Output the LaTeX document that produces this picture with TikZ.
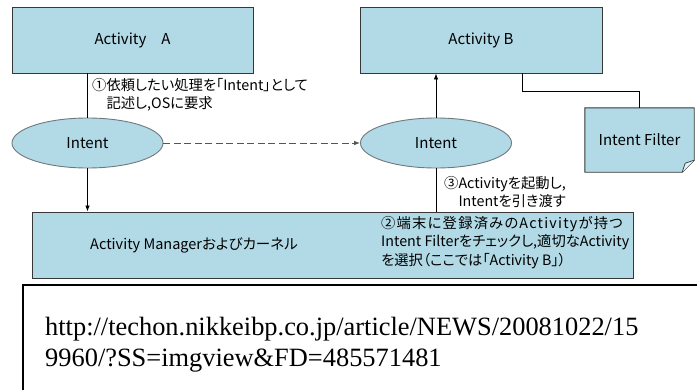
\documentclass[tikz,border=0pt]{standalone}
\usepackage{fontspec}
\setmainfont{Noto Sans CJK JP}[RawFeature=+palt]
\newfontfamily\urlfont{Liberation Serif}
\usetikzlibrary{arrows.meta,shapes.geometric,backgrounds}
\definecolor{boxblue}{RGB}{178,218,230}
\definecolor{edgegray}{RGB}{55,55,55}
\definecolor{ringgray}{RGB}{110,120,125}

\begin{document}
\begin{tikzpicture}[x=1pt,y=-1pt]
  \tikzset{box/.style={draw=edgegray,fill=boxblue,line width=0.9pt,inner sep=0pt,font=\fontsize{15}{18}\selectfont}}
  \tikzset{intentnode/.style={ellipse,draw=ringgray,fill=boxblue,line width=0.9pt,minimum width=151pt,minimum height=50pt,inner sep=0pt,font=\fontsize{15}{18}\selectfont}}
  \tikzset{note/.style={align=left,inner sep=0pt,font=\fontsize{14.3}{18.5}\selectfont}}
  \tikzset{arr/.style={-{Latex[length=6pt,width=4.5pt]},line width=0.8pt}}
  \useasboundingbox (0,0) rectangle (697,389);
  % boxes and intents
  \node[box,minimum width=241pt,minimum height=66pt] (actA) at (132.5,40) {Activity\quad A};
  \node[box,minimum width=242pt,minimum height=66pt] (actB) at (481,40) {Activity B};
  \node[intentnode] (intA) at (87.5,143) {Intent};
  \node[intentnode] (intB) at (436,143) {Intent};
  \node[box,minimum width=601pt,minimum height=66pt] (mgr) at (332.5,245) {};
  \node[anchor=west,inner sep=0pt,font=\fontsize{14.5}{18}\selectfont] (mgrtext) at (90,245) {Activity Managerおよびカーネル};
  \node[inner sep=0pt,minimum width=109pt,minimum height=64pt,font=\fontsize{15}{18}\selectfont] (filter) at (639.5,140) {Intent Filter};
  \begin{scope}[on background layer]
    \filldraw[draw=edgegray,fill=boxblue,line width=0.9pt] (filter.north west) -- (filter.north east)
      -- ([yshift=12pt]filter.south east) -- ([xshift=-12pt]filter.south east) -- (filter.south west) -- cycle;
  \end{scope}
  \filldraw[draw=edgegray,fill=boxblue!35,line width=0.7pt] ([yshift=12pt]filter.south east)
    -- ([xshift=-9pt,yshift=9pt]filter.south east) -- ([xshift=-12pt]filter.south east);
  % connectors
  \coordinate (bend) at (639.5,91);
  \draw[line width=0.8pt] ([xshift=41pt]actB.south) |- (bend) -- (filter.north);
  \draw[line width=0.8pt] (intA.north |- actA.south) -- (intA.north);
  \draw[arr] (intA.south) -- (intA.south |- mgr.north);
  \draw[arr,dash pattern=on 7pt off 3.5pt,draw=edgegray!85] (intA.east) -- (intB.west);
  \draw[arr] (intB.north) -- (intB.north |- actB.south);
  \draw[line width=0.8pt] (intB.south) -- (intB.south |- mgr.north);
  % notes
  \node[note,anchor=north west] (step1) at (92,78) {①依頼したい処理を「Intent」として\\\phantom{①}記述し,OSに要求};
  \node[note,anchor=north west] (step3) at (444,176) {③Activityを起動し,\\\phantom{③}Intentを引き渡す};
  \node[note,anchor=north west] (step2) at (381,216) {{\addfontfeature{LetterSpace=8.5}②端末に登録済みのActivityが持つ}\\Intent Filterをチェックし,適切なActivity\\を選択（ここでは「Activity B」）};
  % source
  \begin{scope}
    \clip (0,0) rectangle (697,389);
    \draw[line width=2pt] (23,285) rectangle (720,410);
  \end{scope}
  \node[anchor=base west,inner sep=0pt,font=\urlfont\fontsize{26.4}{30}\selectfont] (url1) at (45,335) {http://techon.nikkeibp.co.jp/article/NEWS/20081022/15};
  \node[anchor=base west,inner sep=0pt,font=\urlfont\fontsize{26.4}{30}\selectfont] (url2) at (45,366) {9960/?SS=imgview\&FD=485571481};
\end{tikzpicture}
\end{document}
